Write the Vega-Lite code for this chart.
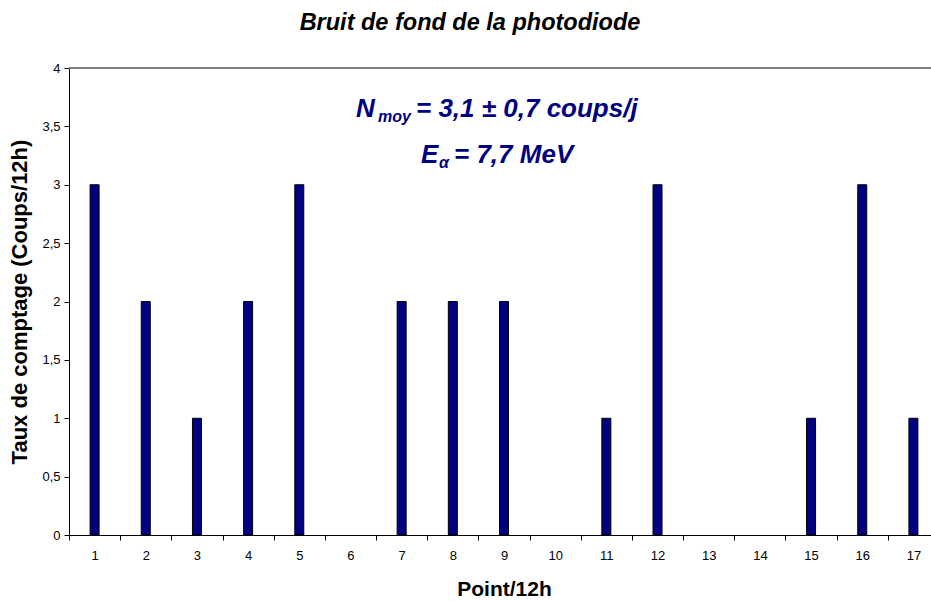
{
  "$schema": "https://vega.github.io/schema/vega-lite/v6.json",
  "width": 862,
  "height": 467,
  "autosize": "none",
  "padding": {"left": 69, "top": 68, "right": 0, "bottom": 66},
  "background": "white",
  "view": {"stroke": null},
  "title": {
    "text": "Bruit de fond de la photodiode",
    "font": "Liberation Sans",
    "fontSize": 23.5,
    "fontWeight": "bold",
    "fontStyle": "italic",
    "color": "black",
    "anchor": "middle",
    "frame": "group",
    "offset": 28,
    "dx": -30
  },
  "datasets": {
    "counts": [
      {"point": 1, "value": 3},
      {"point": 2, "value": 2},
      {"point": 3, "value": 1},
      {"point": 4, "value": 2},
      {"point": 5, "value": 3},
      {"point": 6, "value": 0},
      {"point": 7, "value": 2},
      {"point": 8, "value": 2},
      {"point": 9, "value": 2},
      {"point": 10, "value": 0},
      {"point": 11, "value": 1},
      {"point": 12, "value": 3},
      {"point": 13, "value": 0},
      {"point": 14, "value": 0},
      {"point": 15, "value": 1},
      {"point": 16, "value": 3},
      {"point": 17, "value": 1}
    ],
    "notes": [
      {"line": 1, "point": 9, "value": 3.583, "main": "N", "sub": "moy", "rest": "= 3,1 ± 0,7 coups/j"},
      {"line": 2, "point": 9, "value": 3.189, "main": "E", "sub": "α", "rest": "= 7,7 MeV"}
    ]
  },
  "config": {
    "font": "Liberation Sans",
    "axis": {
      "labelFont": "Liberation Sans",
      "labelFontSize": 13,
      "labelColor": "black",
      "titleFont": "Liberation Sans",
      "titleFontSize": 21,
      "titleFontWeight": "bold",
      "titleColor": "black",
      "domainColor": "black",
      "tickColor": "black",
      "tickSize": 5,
      "grid": false
    }
  },
  "layer": [
    {
      "data": {"name": "counts"},
      "mark": {"type": "rule", "color": "#808080", "strokeWidth": 1.5},
      "encoding": {"y": {"datum": 4, "type": "quantitative"}}
    },
    {
      "data": {"name": "counts"},
      "mark": {"type": "bar", "width": 9, "color": "#000080", "stroke": "black", "strokeWidth": 1},
      "encoding": {
        "x": {
          "field": "point",
          "type": "ordinal",
          "scale": {"range": [0, 870], "paddingInner": 0, "paddingOuter": 0},
          "axis": {
            "title": "Point/12h",
            "labelAngle": 0,
            "tickBand": "extent",
            "labelPadding": 9,
            "titlePadding": 16
          }
        },
        "y": {
          "field": "value",
          "type": "quantitative",
          "scale": {"domain": [0, 4], "nice": false},
          "axis": {
            "title": "Taux de comptage (Coups/12h)",
            "titleFontSize": 22,
            "values": [0, 0.5, 1, 1.5, 2, 2.5, 3, 3.5, 4],
            "labelExpr": "replace(format(datum.value, '.1~f'), '.', ',')",
            "labelPadding": 4,
            "titlePadding": 10
          }
        },
        "strokeOpacity": {"condition": {"test": "datum.value == 0", "value": 0}, "value": 1},
        "fillOpacity": {"condition": {"test": "datum.value == 0", "value": 0}, "value": 1}
      }
    },
    {
      "data": {"name": "notes"},
      "transform": [{"filter": "datum.line == 1"}],
      "layer": [
        {
          "mark": {"type": "text", "align": "left", "baseline": "alphabetic", "dx": -148, "fontSize": 26, "fontWeight": "bold", "fontStyle": "italic", "color": "#000080"},
          "encoding": {"x": {"field": "point", "type": "ordinal"}, "y": {"field": "value", "type": "quantitative"}, "text": {"field": "main"}}
        },
        {
          "mark": {"type": "text", "align": "left", "baseline": "alphabetic", "dx": -126, "dy": 5, "fontSize": 16, "fontWeight": "bold", "fontStyle": "italic", "color": "#000080"},
          "encoding": {"x": {"field": "point", "type": "ordinal"}, "y": {"field": "value", "type": "quantitative"}, "text": {"field": "sub"}}
        },
        {
          "mark": {"type": "text", "align": "left", "baseline": "alphabetic", "dx": -88, "fontSize": 26, "fontWeight": "bold", "fontStyle": "italic", "color": "#000080"},
          "encoding": {"x": {"field": "point", "type": "ordinal"}, "y": {"field": "value", "type": "quantitative"}, "text": {"field": "rest"}}
        }
      ]
    },
    {
      "data": {"name": "notes"},
      "transform": [{"filter": "datum.line == 2"}],
      "layer": [
        {
          "mark": {"type": "text", "align": "left", "baseline": "alphabetic", "dx": -83, "fontSize": 26, "fontWeight": "bold", "fontStyle": "italic", "color": "#000080"},
          "encoding": {"x": {"field": "point", "type": "ordinal"}, "y": {"field": "value", "type": "quantitative"}, "text": {"field": "main"}}
        },
        {
          "mark": {"type": "text", "align": "left", "baseline": "alphabetic", "dx": -65, "dy": 5, "fontSize": 16, "fontWeight": "bold", "fontStyle": "italic", "color": "#000080"},
          "encoding": {"x": {"field": "point", "type": "ordinal"}, "y": {"field": "value", "type": "quantitative"}, "text": {"field": "sub"}}
        },
        {
          "mark": {"type": "text", "align": "left", "baseline": "alphabetic", "dx": -50, "fontSize": 26, "fontWeight": "bold", "fontStyle": "italic", "color": "#000080"},
          "encoding": {"x": {"field": "point", "type": "ordinal"}, "y": {"field": "value", "type": "quantitative"}, "text": {"field": "rest"}}
        }
      ]
    }
  ]
}
